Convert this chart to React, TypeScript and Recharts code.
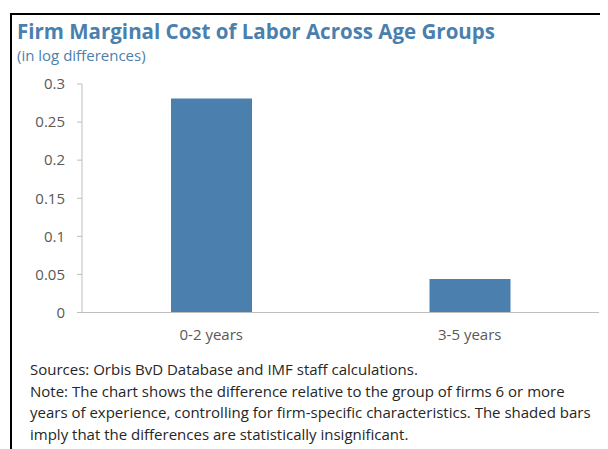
import React from 'react'
import { BarChart, Bar, XAxis, YAxis } from 'recharts'

const categories = ['0-2 years', '3-5 years']
const values = [0.281, 0.044]
const yTicks = [0, 0.05, 0.1, 0.15, 0.2, 0.25, 0.3]

const TITLE = 'Firm Marginal Cost of Labor Across Age Groups'
const SUBTITLE = '(in log differences)'
const NOTES = [
  'Sources: Orbis BvD Database and IMF staff calculations.',
  'Note: The chart shows the difference relative to the group of firms 6 or more',
  'years of experience, controlling for firm-specific characteristics. The shaded bars',
  'imply that the differences are statistically insignificant.',
]

const BLUE = '#4a7fae'
const FONT = '"Open Sans", sans-serif'

const data = categories.map((name, i) => ({ name, value: values[i] }))

// page coords -> coords inside #root (body has 8px margin)
const at = (x: number, y: number): React.CSSProperties => ({ position: 'absolute', left: x - 8, top: y - 8 })

export default function App() {
  return (
    <div style={{ position: 'relative', width: 600, height: 441, fontFamily: FONT, background: '#fff' }}>
      {/* outer frame, only left and top edges show */}
      <div style={{ ...at(10, 13), width: 600, height: 440, borderLeft: '2px solid #000', borderTop: '2px solid #000', boxSizing: 'border-box' }} />

      <div style={{ ...at(17, 17), fontSize: 20.5, fontWeight: 700, color: BLUE, whiteSpace: 'nowrap', lineHeight: '28px' }}>{TITLE}</div>
      <div style={{ ...at(17, 45), fontSize: 15, color: BLUE, whiteSpace: 'nowrap', lineHeight: '20px' }}>{SUBTITLE}</div>

      <div style={at(0, 0)}>
        <BarChart width={608} height={360} data={data} margin={{ top: 84, left: 22, right: 9, bottom: 17.5 }}>
          <XAxis
            xAxisId="top"
            orientation="top"
            dataKey="name"
            height={0}
            tick={false}
            tickLine={false}
            axisLine={{ stroke: '#d9d9d9' }}
          />
          <XAxis
            xAxisId="sep"
            type="number"
            domain={[0, 2]}
            ticks={[1]}
            height={0}
            mirror
            tick={false}
            axisLine={false}
            tickSize={5}
            tickLine={{ stroke: '#bfbfbf' }}
          />
          <XAxis
            dataKey="name"
            height={30}
            tickSize={0}
            tickMargin={17}
            tickLine={false}
            axisLine={{ stroke: '#bfbfbf' }}
            tick={{ fill: '#595959', fontSize: 15, fontFamily: FONT }}
          />
          <YAxis
            width={60}
            domain={[0, 0.3]}
            ticks={yTicks}
            tickFormatter={(v: number) => String(v)}
            tickSize={5}
            tickMargin={12}
            axisLine={{ stroke: '#bfbfbf' }}
            tickLine={{ stroke: '#bfbfbf' }}
            tick={{ fill: '#595959', fontSize: 15, fontFamily: FONT }}
          />
          <YAxis
            yAxisId="frame"
            orientation="right"
            width={0}
            domain={[0, 0.3]}
            tick={false}
            tickLine={false}
            axisLine={{ stroke: '#d9d9d9' }}
          />
          <Bar dataKey="value" xAxisId={0} yAxisId={0} fill={BLUE} barSize={81} isAnimationActive={false} />
        </BarChart>
      </div>

      <div style={{ ...at(30, 359), fontSize: 15, color: '#262626', lineHeight: '21.5px', whiteSpace: 'nowrap' }}>
        {NOTES.map((line) => (
          <div key={line}>{line}</div>
        ))}
      </div>
    </div>
  )
}
